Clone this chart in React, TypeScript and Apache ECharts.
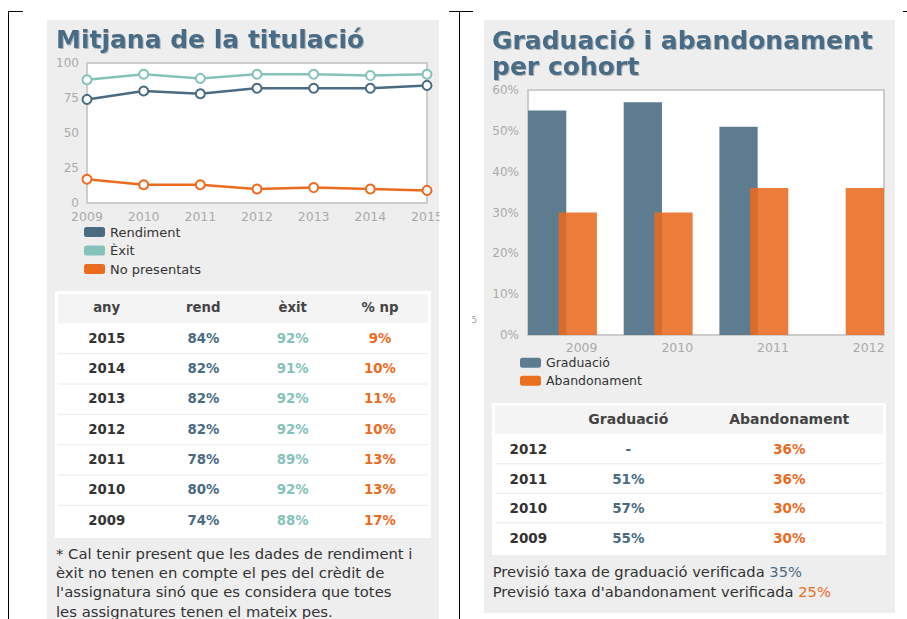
import React, { useEffect, useRef } from 'react';
import * as echarts from 'echarts';

// ---------- data ----------
const years = ['2009', '2010', '2011', '2012', '2013', '2014', '2015'];
const rendiment = [74, 80, 78, 82, 82, 82, 84];
const exitValues = [88, 92, 89, 92, 92, 91, 92];
const noPresentats = [17, 13, 13, 10, 11, 10, 9];

const cohorts = [2009, 2010, 2011, 2012];
const graduacio: (number | null)[] = [55, 57, 51, null];
const abandonament = [30, 30, 36, 36];

const leftHeader = ['any', 'rend', 'èxit', '% np'];
const rightHeader = ['', 'Graduació', 'Abandonament'];
const previsioGrad = '35%';
const previsioAband = '25%';
const footnoteLines = [
  '* Cal tenir present que les dades de rendiment i',
  'èxit no tenen en compte el pes del crèdit de',
  "l'assignatura sinó que es considera que totes",
  'les assignatures tenen el mateix pes.',
];

// ---------- style ----------
const FONT = '"DejaVu Sans", Verdana, sans-serif';
const C_TITLE = '#4a6c86';
const C_REND = '#4a6b82';
const C_EXIT = '#85c2bb';
const C_NP = '#eb6b1f';
const C_GRAD = '#5d7c90';
const C_ABAN = 'rgba(232,106,30,0.88)';
const C_ABAN_SOLID = '#e8701f';
const C_TEXT = '#333333';
const C_AXIS = '#aaaaaa';
const C_GRIDLINE = '#e4e4e4';

const BAR_W = 0.4;
const GRAD_OFF = -0.56;
const ABAN_OFF = -0.24;

const makeBarRender = (offset: number, fill: string) => (_params: any, api: any) => {
  const x = api.value(0) as number;
  const y = api.value(1) as number;
  const p0 = api.coord([x + offset, y]);
  const p1 = api.coord([x + offset + BAR_W, 0]);
  return {
    type: 'rect',
    shape: { x: p0[0], y: p0[1], width: p1[0] - p0[0], height: p1[1] - p0[1] },
    style: { fill },
  };
};

function txt(text: string, x: number, y: number, opts: any = {}) {
  const fontSize = opts.fontSize || 14;
  return {
    type: 'text',
    z: 10,
    style: {
      text,
      x,
      y,
      align: opts.align || 'left',
      verticalAlign: 'middle',
      fill: opts.fill || C_TEXT,
      fontSize,
      lineHeight: opts.lineHeight || undefined,
      fontWeight: opts.fontWeight || 'normal',
      fontFamily: FONT,
      rich: opts.rich,
      textShadowColor: opts.shadow ? 'rgba(0,0,0,0.25)' : undefined,
      textShadowBlur: opts.shadow ? 1.5 : undefined,
      textShadowOffsetX: opts.shadow ? 1 : undefined,
      textShadowOffsetY: opts.shadow ? 1 : undefined,
    },
  };
}

function hline(x1: number, x2: number, y: number, stroke: string, z = 10, w = 1) {
  return { type: 'line', z, shape: { x1, y1: y, x2, y2: y }, style: { stroke, lineWidth: w } };
}
function vline(x: number, y1: number, y2: number, stroke: string, z = 10, w = 1) {
  return { type: 'line', z, shape: { x1: x, y1, x2: x, y2 }, style: { stroke, lineWidth: w } };
}

function buildGraphics() {
  const els: any[] = [];
  // panels
  els.push({ type: 'rect', z: -10, shape: { x: 47, y: 20, width: 392, height: 600 }, style: { fill: '#eeeeee' } });
  els.push({ type: 'rect', z: -10, shape: { x: 484, y: 20, width: 411, height: 593 }, style: { fill: '#eeeeee' } });

  // titles
  els.push(txt('Mitjana de la titulació', 56, 39.5, { fontSize: 25, fontWeight: 'bold', fill: C_TITLE, shadow: true }));
  els.push(txt('Graduació i abandonament', 492, 40, { fontSize: 25, fontWeight: 'bold', fill: C_TITLE, shadow: true }));
  els.push(txt('per cohort', 492, 66.7, { fontSize: 25, fontWeight: 'bold', fill: C_TITLE, shadow: true }));

  // left table
  els.push({ type: 'rect', z: 5, shape: { x: 55, y: 291, width: 376, height: 247 }, style: { fill: '#ffffff' } });
  els.push({ type: 'rect', z: 6, shape: { x: 58, y: 294, width: 370, height: 29.3 }, style: { fill: '#f4f4f4' } });
  const lCols = [106.7, 203.3, 292.7, 380];
  leftHeader.forEach((h, i) => els.push(txt(h, lCols[i], 307.5, { align: 'center', fontWeight: 'bold', fontSize: 13.3, fill: '#444444' })));
  const nRows = years.length;
  for (let r = 0; r < nRows; r++) {
    const idx = nRows - 1 - r;
    const cy = 338 + r * 30.35;
    if (r > 0) els.push(hline(58, 428, 323.3 + r * 30.35, '#e6ecf0', 7));
    els.push(txt(years[idx], lCols[0], cy, { align: 'center', fontWeight: 'bold', fontSize: 13.3, fill: C_TEXT }));
    els.push(txt(rendiment[idx] + '%', lCols[1], cy, { align: 'center', fontWeight: 'bold', fontSize: 13.3, fill: C_REND }));
    els.push(txt(exitValues[idx] + '%', lCols[2], cy, { align: 'center', fontWeight: 'bold', fontSize: 13.3, fill: C_EXIT }));
    els.push(txt(noPresentats[idx] + '%', lCols[3], cy, { align: 'center', fontWeight: 'bold', fontSize: 13.3, fill: C_NP }));
  }

  // footnote
  footnoteLines.forEach((l, i) =>
    els.push(txt(l, 56, 553.5 + i * 19.2, { fontSize: 14.8, lineHeight: 14.8, fill: C_TEXT }))
  );

  // right table
  els.push({ type: 'rect', z: 5, shape: { x: 492, y: 403, width: 394, height: 152 }, style: { fill: '#ffffff' } });
  els.push({ type: 'rect', z: 6, shape: { x: 495, y: 405.5, width: 388, height: 28.8 }, style: { fill: '#f4f4f4' } });
  const rCols = [528.3, 628.3, 789.3];
  rightHeader.forEach((h, i) => {
    if (h) els.push(txt(h, rCols[i], 418.5, { align: 'center', fontWeight: 'bold', fontSize: 14, fill: '#444444' }));
  });
  const nR = cohorts.length;
  for (let r = 0; r < nR; r++) {
    const idx = nR - 1 - r;
    const cy = 449.3 + r * 29.5;
    if (r > 0) els.push(hline(495, 883, 434.3 + r * 29.5, '#e6ecf0', 7));
    els.push(txt(String(cohorts[idx]), rCols[0], cy, { align: 'center', fontWeight: 'bold', fontSize: 13.5, fill: C_TEXT }));
    const g = graduacio[idx];
    els.push(txt(g == null ? '-' : g + '%', rCols[1], cy, { align: 'center', fontWeight: 'bold', fontSize: 13.5, fill: C_REND }));
    els.push(txt(abandonament[idx] + '%', rCols[2], cy, { align: 'center', fontWeight: 'bold', fontSize: 13.5, fill: C_NP }));
  }

  // previsió notes
  els.push(txt('Previsió taxa de graduació verificada {g|' + previsioGrad + '}', 492.7, 571.7, {
    fontSize: 14.7, fill: C_TEXT, rich: { g: { fill: C_REND, fontSize: 14.7, fontFamily: FONT } },
  }));
  els.push(txt("Previsió taxa d'abandonament verificada {a|" + previsioAband + '}', 492.7, 591, {
    fontSize: 14.7, fill: C_TEXT, rich: { a: { fill: C_NP, fontSize: 14.7, fontFamily: FONT } },
  }));

  // stray glyph
  els.push(txt('5', 471.5, 319.5, { fontSize: 9, fill: '#8fa3b3' }));

  // mask overflow of the last x label of the left chart
  els.push({ type: 'rect', z: 100, shape: { x: 439.5, y: 200, width: 19.5, height: 30 }, style: { fill: '#ffffff' } });

  // document frame lines
  els.push(vline(8.5, 11, 619, '#000', 101));
  els.push(hline(8, 23, 11.5, '#000', 101));
  els.push(hline(449, 473, 11.5, '#000', 101));
  els.push(vline(459.5, 11, 619, '#000', 101));
  els.push(hline(903, 907, 11.5, '#000', 101));
  return els;
}

export default function App() {
  const ref = useRef<HTMLDivElement>(null);

  useEffect(() => {
    if (!ref.current) return;
    const chart = echarts.init(ref.current, undefined, { renderer: 'svg' });
    const axisLabel = { color: C_AXIS, fontSize: 12, fontFamily: FONT };
    const splitLine = { show: true, lineStyle: { color: C_GRIDLINE, width: 1.5 } };

    const option: any = {
      animation: false,
      backgroundColor: '#ffffff',
      textStyle: { fontFamily: FONT },
      grid: [
        { left: 87, top: 63, width: 340, height: 140, show: true, backgroundColor: '#ffffff', borderColor: '#cccccc', borderWidth: 2, z: 1 },
        { left: 528, top: 90, width: 356, height: 245, show: true, backgroundColor: '#ffffff', borderColor: '#cccccc', borderWidth: 2, z: 1 },
      ],
      xAxis: [
        {
          type: 'category', gridIndex: 0, data: years, boundaryGap: false,
          axisLine: { show: false }, axisTick: { show: false },
          axisLabel: { ...axisLabel, fontSize: 12.5, lineHeight: 12.5, margin: 7, interval: 0 },
          splitLine: { ...splitLine, interval: 0 },
        },
        {
          type: 'value', gridIndex: 1, min: 2008.44, max: 2012.16, splitNumber: 4,
          axisLine: { show: false }, axisTick: { show: false },
          axisLabel: {
            ...axisLabel, fontSize: 12.5, margin: 6,
            formatter: (v: number) => (Math.abs(v - Math.round(v)) < 1e-6 ? String(Math.round(v)) : ''),
          },
          splitLine,
        },
      ],
      yAxis: [
        {
          type: 'value', gridIndex: 0, min: 0, max: 100, interval: 25,
          axisLine: { show: false }, axisTick: { show: false },
          axisLabel: { ...axisLabel, lineHeight: 11, margin: 8 },
          splitLine,
        },
        {
          type: 'value', gridIndex: 1, min: 0, max: 60, interval: 10,
          axisLine: { show: false }, axisTick: { show: false },
          axisLabel: { ...axisLabel, margin: 9, formatter: '{value}%' },
          splitLine,
        },
      ],
      legend: [
        {
          orient: 'vertical', left: 84, top: 222.8, padding: 0, itemGap: 0,
          itemWidth: 21, itemHeight: 10, icon: 'roundRect',
          textStyle: { color: C_TEXT, fontSize: 13, fontFamily: FONT, lineHeight: 18.5 },
          data: [
            { name: 'Rendiment', itemStyle: { color: C_REND } },
            { name: 'Èxit', itemStyle: { color: C_EXIT } },
            { name: 'No presentats', itemStyle: { color: C_NP } },
          ],
          selectedMode: false,
        },
        {
          orient: 'vertical', left: 520, top: 353.7, padding: 0, itemGap: 0,
          itemWidth: 21, itemHeight: 10, icon: 'roundRect',
          textStyle: { color: C_TEXT, fontSize: 12.5, fontFamily: FONT, lineHeight: 18 },
          data: [
            { name: 'Graduació', itemStyle: { color: C_GRAD } },
            { name: 'Abandonament', itemStyle: { color: C_ABAN_SOLID } },
          ],
          selectedMode: false,
        },
      ],
      series: [
        {
          name: 'Rendiment', type: 'line', xAxisIndex: 0, yAxisIndex: 0, data: rendiment,
          symbol: 'emptyCircle', symbolSize: 9, lineStyle: { width: 2.5, color: C_REND },
          itemStyle: { color: C_REND, borderWidth: 2 }, z: 3,
        },
        {
          name: 'Èxit', type: 'line', xAxisIndex: 0, yAxisIndex: 0, data: exitValues,
          symbol: 'emptyCircle', symbolSize: 9, lineStyle: { width: 2.5, color: C_EXIT },
          itemStyle: { color: C_EXIT, borderWidth: 2 }, z: 3,
        },
        {
          name: 'No presentats', type: 'line', xAxisIndex: 0, yAxisIndex: 0, data: noPresentats,
          symbol: 'emptyCircle', symbolSize: 9, lineStyle: { width: 2.5, color: C_NP },
          itemStyle: { color: C_NP, borderWidth: 2 }, z: 3,
        },
        {
          name: 'Graduació', type: 'custom', xAxisIndex: 1, yAxisIndex: 1,
          data: cohorts.map((c, i) => [c, graduacio[i]]).filter((d) => d[1] != null),
          encode: { x: 0, y: 1 }, itemStyle: { color: C_GRAD },
          renderItem: makeBarRender(GRAD_OFF, C_GRAD), clip: true, z: 3,
        },
        {
          name: 'Abandonament', type: 'custom', xAxisIndex: 1, yAxisIndex: 1,
          data: cohorts.map((c, i) => [c, abandonament[i]]),
          encode: { x: 0, y: 1 }, itemStyle: { color: C_ABAN_SOLID },
          renderItem: makeBarRender(ABAN_OFF, C_ABAN), clip: true, z: 4,
        },
      ],
      graphic: { elements: buildGraphics() },
    };
    chart.setOption(option);
    return () => chart.dispose();
  }, []);

  return (
    <div
      ref={ref}
      style={{ position: 'absolute', left: 0, top: 0, width: 907, height: 619 }}
    />
  );
}
